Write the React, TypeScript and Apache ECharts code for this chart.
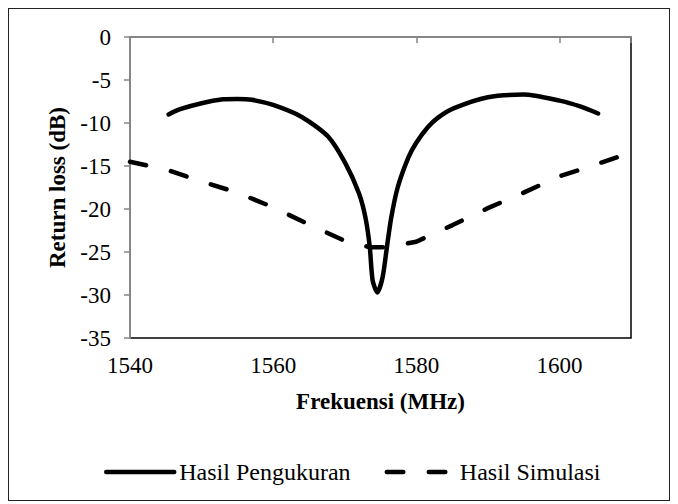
import React, { useEffect, useRef } from "react";
import * as echarts from "echarts";

const measFreq = [1545.4, 1547, 1550, 1553, 1555, 1557, 1560, 1564, 1567.7, 1570.1, 1572, 1572.9, 1573.5, 1573.9, 1574.55, 1575.3, 1575.9, 1576.5, 1577.4, 1578.9, 1580, 1581.6, 1583, 1585.2, 1590, 1595, 1600, 1603, 1605.4];
const measDb = [-9.0, -8.4, -7.7, -7.25, -7.2, -7.3, -7.9, -9.3, -11.6, -14.7, -18.2, -21.0, -24.4, -28.3, -29.7, -27.9, -24.4, -21.0, -17.5, -14.0, -12.3, -10.5, -9.4, -8.3, -7.0, -6.7, -7.4, -8.1, -8.9];

const simFreq = [1540, 1545, 1550, 1555, 1560, 1565, 1570, 1573.5, 1576, 1580, 1585, 1590, 1595, 1600, 1603, 1608];
const simDb = [-14.5, -15.4, -16.8, -18.1, -19.8, -21.8, -23.7, -24.45, -24.45, -23.8, -21.9, -19.9, -18.1, -16.2, -15.4, -14.0];

const xTicks = [1540, 1560, 1580, 1600];
const yTicks = [0, -5, -10, -15, -20, -25, -30, -35];

const seriesNames = ["Hasil Pengukuran", "Hasil Simulasi"];

const FONT = "'Liberation Serif', 'Times New Roman', serif";

export default function App() {
  const ref = useRef<HTMLDivElement>(null);
  useEffect(() => {
    if (!ref.current) return;
    const chart = echarts.init(ref.current, null, { renderer: "svg" });
    const xMin = xTicks[0];
    const xMax = 1610;
    const yMin = yTicks[yTicks.length - 1];
    const yMax = yTicks[0];
    chart.setOption({
      animation: false,
      textStyle: { fontFamily: FONT },
      grid: { left: 121, top: 28, width: 501, height: 301, show: true, borderColor: "#000", borderWidth: 1.5, backgroundColor: "transparent" },
      xAxis: [
        {
          type: "value", min: xMin, max: xMax, interval: 20, position: "top",
          axisLine: { show: true, onZero: false, lineStyle: { color: "#868686", width: 2 } },
          axisTick: { show: true, inside: true, length: 6, lineStyle: { color: "#868686", width: 1.5 } },
          axisLabel: { show: false }, splitLine: { show: false },
        },
        {
          type: "value", min: xMin, max: xMax, interval: 20, position: "bottom",
          axisLine: { show: false }, axisTick: { show: false }, splitLine: { show: false },
          axisLabel: { show: true, showMaxLabel: false, margin: 16, color: "#000", fontSize: 23, fontFamily: FONT, formatter: (v: number) => String(v) },
          name: "Frekuensi (MHz)", nameLocation: "middle", nameGap: 52,
          nameTextStyle: { color: "#000", fontSize: 23, fontWeight: "bold", fontFamily: FONT },
        },
      ],
      yAxis: {
        type: "value", min: yMin, max: yMax, interval: 5,
        axisLine: { show: true, onZero: false, lineStyle: { color: "#868686", width: 2 } },
        axisTick: { show: true, inside: false, length: 6, lineStyle: { color: "#868686", width: 1.5 } },
        splitLine: { show: false },
        axisLabel: { margin: 19, color: "#000", fontSize: 23, fontFamily: FONT, formatter: (v: number) => String(v) },
        name: "Return loss (dB)", nameLocation: "middle", nameGap: 60,
        nameTextStyle: { color: "#000", fontSize: 23, fontWeight: "bold", fontFamily: FONT },
      },
      legend: {
        left: 90, top: 446, itemWidth: 68, itemHeight: 14, itemGap: 34,
        textStyle: { color: "#000", fontSize: 24, fontFamily: FONT },
        itemStyle: { color: "transparent", borderWidth: 0, opacity: 0 },
        lineStyle: { width: 4.5, cap: "round" },
        data: seriesNames,
      },
      series: [
        {
          name: seriesNames[1], type: "line", xAxisIndex: 0,
          data: simFreq.map((f, i) => [f, simDb[i]]),
          symbol: "none", smooth: false,
          lineStyle: { color: "#000", width: 4.5, type: [16.5, 25.5], cap: "round" },
          itemStyle: { color: "#000" },
        },
        {
          name: seriesNames[0], type: "line", xAxisIndex: 0,
          data: measFreq.map((f, i) => [f, measDb[i]]),
          symbol: "none", smooth: 0.25,
          lineStyle: { color: "#000", width: 4.5, type: "solid", cap: "round", join: "round" },
          itemStyle: { color: "#000" },
        },
      ],
    });
    return () => chart.dispose();
  }, []);
  return (
    <div
      ref={ref}
      style={{ width: 662, height: 493, border: "1.5px solid #222", boxSizing: "border-box" }}
    />
  );
}
